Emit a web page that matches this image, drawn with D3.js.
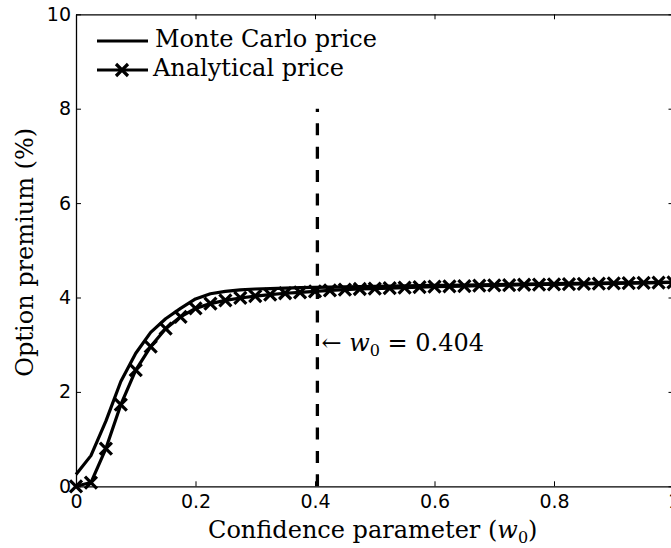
<!DOCTYPE html>
<html>
<head>
<meta charset="utf-8">
<script src="https://cdn.jsdelivr.net/npm/d3@7"></script>
<style>
  html, body { margin: 0; padding: 0; background: #fff; }
  svg { display: block; }
  .tick text { font-family: "DejaVu Sans", sans-serif; font-size: 19px; fill: #000; }
  .serif { font-family: "DejaVu Serif", serif; fill: #000; }
</style>
</head>
<body>
<svg id="chart" width="671" height="548"></svg>
<script>
// Confidence parameter grid (step 0.025)
const w0 = [0, 0.025, 0.05, 0.075, 0.1, 0.125, 0.15, 0.175, 0.2, 0.225, 0.25, 0.275, 0.3,
  0.325, 0.35, 0.375, 0.4, 0.425, 0.45, 0.475, 0.5, 0.525, 0.55, 0.575, 0.6, 0.625, 0.65,
  0.675, 0.7, 0.725, 0.75, 0.775, 0.8, 0.825, 0.85, 0.875, 0.9, 0.925, 0.95, 0.975, 1.0];

// Option premium (%) from Monte Carlo simulation
const monteCarlo = [0.25, 0.65, 1.38, 2.22, 2.82, 3.26, 3.55, 3.77, 3.97, 4.08, 4.13, 4.16, 4.18,
  4.19, 4.20, 4.21, 4.215, 4.22, 4.225, 4.23, 4.235, 4.24, 4.245, 4.25, 4.255, 4.26, 4.265,
  4.27, 4.275, 4.28, 4.285, 4.29, 4.295, 4.30, 4.30, 4.305, 4.31, 4.31, 4.315, 4.32, 4.32];

// Option premium (%) from the analytical formula
const analytical = [0.0, 0.08, 0.80, 1.73, 2.46, 2.96, 3.34, 3.59, 3.77, 3.87, 3.94, 3.99, 4.03,
  4.06, 4.09, 4.11, 4.13, 4.15, 4.165, 4.18, 4.19, 4.20, 4.21, 4.22, 4.23, 4.235, 4.24,
  4.25, 4.255, 4.26, 4.27, 4.275, 4.28, 4.285, 4.29, 4.295, 4.30, 4.305, 4.31, 4.315, 4.32];

const xTicks = [0, 0.2, 0.4, 0.6, 0.8, 1];
const yTicks = [0, 2, 4, 6, 8, 10];
const threshold = 0.404;
const thresholdTop = 8;

const svg = d3.select("#chart");
const plotLeft = 76, plotTop = 14.3, plotW = 597.5, plotH = 472;

const x = d3.scaleLinear().domain([0, 1]).range([plotLeft, plotLeft + plotW]);
const y = d3.scaleLinear().domain([0, 10]).range([plotTop + plotH, plotTop]);

// Frame with inward ticks on all four sides
const g = svg.append("g");
g.append("g").attr("transform", `translate(0,${y(0)})`)
  .call(d3.axisBottom(x).tickValues(xTicks).tickSizeInner(-5).tickSizeOuter(0).tickPadding(8)
    .tickFormat(d => d === 0 ? "0" : d === 1 ? "1" : d3.format(".1f")(d)));
g.append("g").attr("transform", `translate(0,${y(10)})`)
  .call(d3.axisTop(x).tickValues(xTicks).tickSizeInner(-5).tickSizeOuter(0).tickFormat(""));
g.append("g").attr("transform", `translate(${x(0)},0)`)
  .call(d3.axisLeft(y).tickValues(yTicks).tickSizeInner(-5).tickSizeOuter(0).tickPadding(5)
    .tickFormat(d3.format("d")));
g.append("g").attr("transform", `translate(${x(1)},0)`)
  .call(d3.axisRight(y).tickValues(yTicks).tickSizeInner(-5).tickSizeOuter(0).tickFormat(""));
g.selectAll(".domain").attr("stroke", "#000").attr("stroke-width", 1.3);
g.selectAll(".tick line").attr("stroke", "#000").attr("stroke-width", 1);

const line = d3.line().x((d, i) => x(w0[i])).y(d => y(d));

// Threshold marker, dashed from the axis upwards
svg.append("line")
  .attr("x1", x(threshold)).attr("x2", x(threshold))
  .attr("y1", y(0)).attr("y2", y(thresholdTop))
  .attr("stroke", "#000").attr("stroke-width", 3.3)
  .attr("stroke-dasharray", "12,11.4");

// Monte Carlo curve
svg.append("path").datum(monteCarlo)
  .attr("d", line).attr("fill", "none")
  .attr("stroke", "#000").attr("stroke-width", 3.2).attr("stroke-linejoin", "round");

// Analytical curve with x markers
svg.append("path").datum(analytical)
  .attr("d", line).attr("fill", "none")
  .attr("stroke", "#000").attr("stroke-width", 3.2).attr("stroke-linejoin", "round");

const m = 6;
const crossPath = `M${-m},${-m}L${m},${m}M${-m},${m}L${m},${-m}`;
svg.append("g").selectAll("path").data(analytical).join("path")
  .attr("transform", (d, i) => `translate(${x(w0[i])},${y(d)})`)
  .attr("d", crossPath).attr("stroke", "#000").attr("stroke-width", 3.2).attr("fill", "none");

// Legend
const leg = svg.append("g");
leg.append("line").attr("x1", 97).attr("x2", 148).attr("y1", 41).attr("y2", 41)
  .attr("stroke", "#000").attr("stroke-width", 3.2);
leg.append("text").attr("class", "serif").attr("x", 155).attr("y", 47)
  .attr("font-size", 24).text("Monte Carlo price");
leg.append("line").attr("x1", 97).attr("x2", 148).attr("y1", 70).attr("y2", 70)
  .attr("stroke", "#000").attr("stroke-width", 3.2);
leg.append("path").attr("transform", "translate(122,70)").attr("d", crossPath)
  .attr("stroke", "#000").attr("stroke-width", 3.2);
leg.append("text").attr("class", "serif").attr("x", 153).attr("y", 76)
  .attr("font-size", 24).text("Analytical price");

// Threshold annotation
const ann = svg.append("text").attr("class", "serif").attr("x", x(threshold) + 4)
  .attr("y", 351).attr("font-size", 24);
ann.append("tspan").text("← ");
ann.append("tspan").attr("font-style", "italic").text("w");
ann.append("tspan").attr("font-size", 16).attr("dy", 5).text("0");
ann.append("tspan").attr("dy", -5).text(" = 0.404");

// Axis titles
const xt = svg.append("text").attr("class", "serif").attr("x", x(0.5) - 2).attr("y", 538)
  .attr("text-anchor", "middle").attr("font-size", 24);
xt.append("tspan").text("Confidence parameter (");
xt.append("tspan").attr("font-style", "italic").text("w");
xt.append("tspan").attr("font-size", 16).attr("dy", 5).text("0");
xt.append("tspan").attr("dy", -5).text(")");

svg.append("text").attr("class", "serif")
  .attr("transform", `translate(33,${y(5) + 2}) rotate(-90)`)
  .attr("text-anchor", "middle").attr("font-size", 24)
  .text("Option premium (%)");
</script>
</body>
</html>
